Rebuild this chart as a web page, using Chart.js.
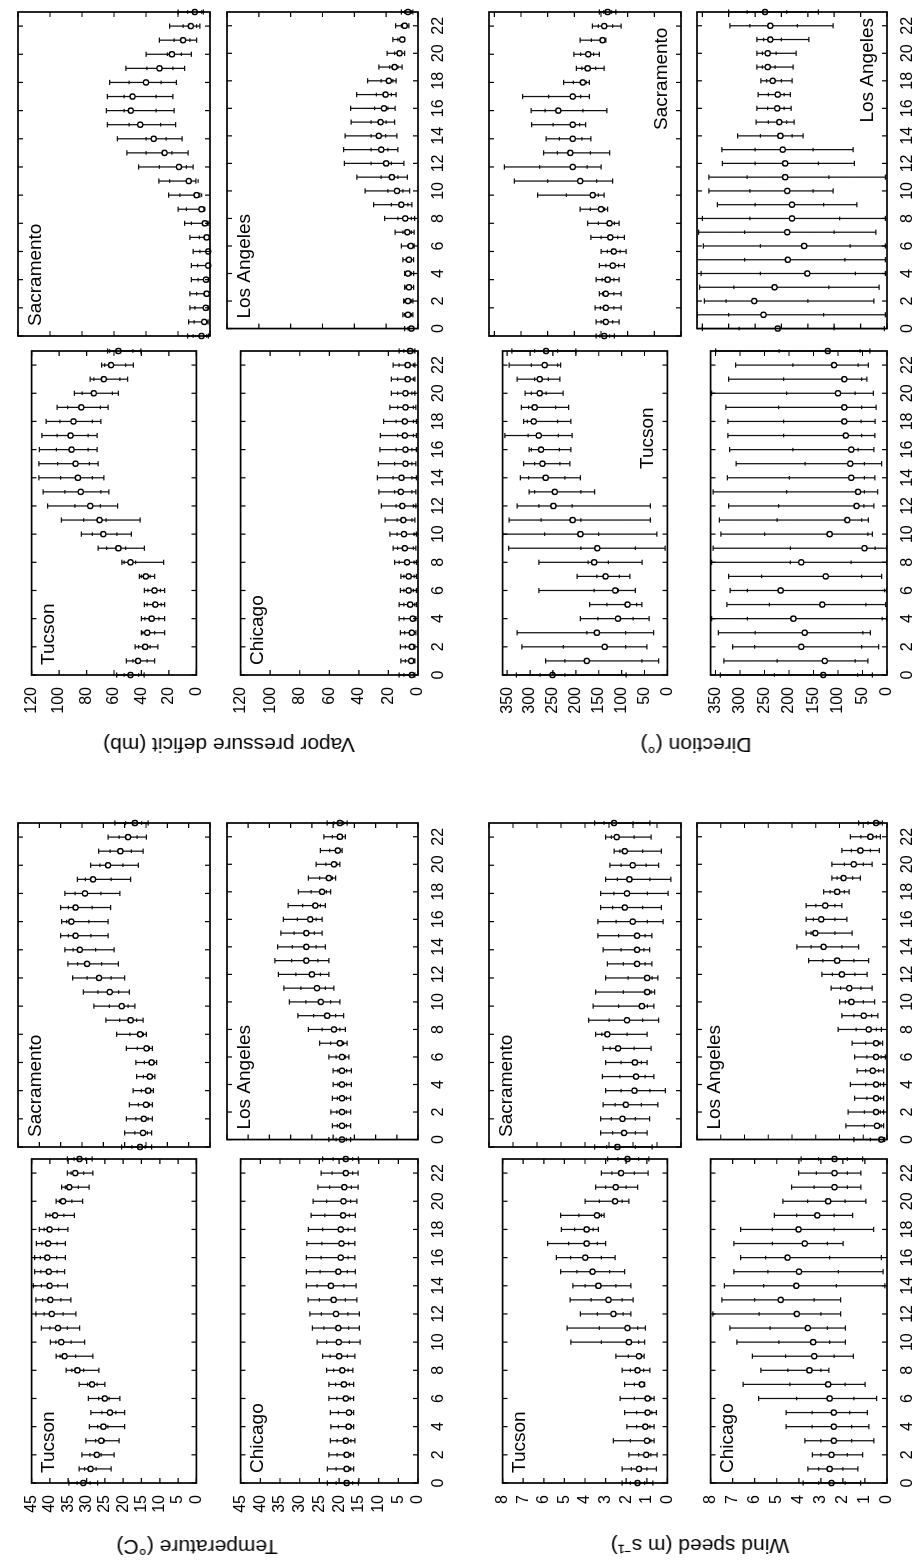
<!DOCTYPE html>
<html>
<head>
<meta charset="utf-8">
<script src="https://cdn.jsdelivr.net/npm/chart.js@4.4.0/dist/chart.umd.min.js"></script>
<style>
  html, body { margin: 0; padding: 0; background: #fff; }
  body { width: 913px; height: 1564px; overflow: hidden; position: relative; }
  /* the figure is drawn landscape and turned a quarter turn, as in the scan */
  #fig { position: absolute; left: 0; top: 0; width: 1564px; height: 913px;
         transform-origin: 0 0; transform: translate(0px, 1564px) rotate(-90deg); }
  #fig canvas { position: absolute; }
  .ttl { position: absolute; font: 21px "Liberation Sans", Arial, sans-serif; color: #000;
         white-space: nowrap; transform: translate(-50%, -50%) rotate(-90deg); }
</style>
</head>
<body>
<div id="fig"></div>
<script>
const hours = [0,1,2,3,4,5,6,7,8,9,10,11,12,13,14,15,16,17,18,19,20,21,22,23];

// Temperature (°C): mean, whisker ends, inner marks
const tempTucsonMean = [30.9,28.9,27.2,26,25.4,23.6,25,28.5,32.5,36,36.9,37.8,39.5,39.9,40.1,40.3,40.7,40.5,40.1,38.6,36.4,34.7,33.1,31.9];
const tempTucsonHi   = [34.8,32,31.3,30.2,29.2,28.8,29.5,32,35.6,38.3,39.9,42.3,43.8,43.8,44.5,44.2,44.2,43.7,42.9,41.1,38.3,36.8,35.2,35.2];
const tempTucsonLo   = [27,23.3,22.5,21.1,19.6,19.6,20.9,25,26.6,28.3,30.5,31.9,32.9,34.3,35.2,36,35.8,35.8,35.1,33.3,31.1,29.3,28.3,28.5];
const tempTucsonQ3   = [32.6,30.5,29.1,27.5,27,25.8,26.7,29.7,34,37.2,38.4,40,41.6,42,42.3,42.5,42.6,42.2,41.6,40,37.4,35.8,34.2,33.4];
const tempTucsonQ1   = [29,27.4,26,25.2,24.2,22,23.8,27.1,30.8,33,34.2,35.2,36.4,37,37.8,38,38.2,38,37.6,36.2,34,32.2,30.8,30.2];
const tempSacMean = [16.4,15.7,15.5,15,14.5,14.1,13.7,14.9,16.4,18.6,20.7,23.5,26,28.8,30.5,31.5,32.5,31.5,29.3,27.4,23.9,21,19.2,17.6];
const tempSacHi   = [20.7,20,19.6,18.9,18,17.2,17.4,19.6,21.9,24.4,27.2,29.7,32.2,33.3,34,35,34.8,35,34,31.1,28,26.1,23.9,22.3];
const tempSacLo   = [13.7,13.7,13.5,13.5,13.3,12.9,12.5,13.5,14.9,15.7,17.6,18.9,20,21.5,22.5,23.9,23.9,23.3,21.1,18.6,16.8,15.7,14.9,14.5];
const tempSacQ3   = [18.3,17.6,17.4,16.8,16.1,15.6,15.4,17,18.8,21.2,23.6,26.3,28.8,31,32.1,33.2,33.6,33.2,31.6,29.2,25.8,23.4,21.3,19.8];
const tempSacQ1   = [15.2,14.7,14.5,14.2,13.9,13.5,13.1,14.2,15.6,17.2,19.2,21.4,23.2,25.4,26.8,27.9,28.4,27.6,25.6,23.2,20.4,18.4,17.1,16];
const tempChiMean = [18.1,18.1,18.1,18.3,17.6,17.5,18.3,18.8,19.2,20,20.1,20.2,20.8,21.4,22.1,20.2,19.6,19.4,19.6,19,18.9,18.7,18.3,18.3];
const tempChiHi   = [23,23,22.6,22.2,22.1,22.2,22.6,22.6,23.2,24.2,25.6,26.8,27.4,27.9,28.3,28.3,28.3,28.2,27.8,27.1,26.6,25.4,24.6,24.2];
const tempChiLo   = [15.1,16.3,16.3,16,16.3,16.3,16.3,16.3,16.5,16,14.7,14.9,14.9,15.5,15.7,15.9,16,16,16,15.9,15.5,15.2,15.2,15.1];
const tempChiQ3   = [20.8,20.8,20.5,20.5,20.2,20.2,20.6,20.9,21.4,22.3,23.2,23.9,24.5,25,25.6,24.8,24.6,24.4,24.2,23.6,23.2,22.4,21.8,21.5];
const tempChiQ1   = [16.6,17.1,17.1,17,16.9,16.9,17.2,17.4,17.7,17.9,17.4,17.6,17.8,18.4,18.8,17.9,17.7,17.6,17.7,17.4,17.1,16.9,16.6,16.6];
const tempLaMean = [17.9,17.9,17.9,17.9,17.9,17.9,17.9,18.4,19.8,21.4,22.9,23.8,25,26.3,26.3,26.3,25.4,24.2,22.6,21,19.8,18.9,18.4,18.4];
const tempLaHi   = [21,20.2,20.5,20.2,20,20,21,23.2,25.8,28.3,30.3,31.6,32.9,33.7,33.1,32.3,31.7,30.6,28.2,25.8,24,23,22.2,21.4];
const tempLaLo   = [15.9,15.9,15.9,15.9,15.7,15.7,16.3,16.7,17.1,17.5,18.4,19.8,21,21,21.8,22.6,22.6,21.8,20.6,19.4,18.4,17.9,17.1,16.7];
const tempLaQ3   = [19.3,19,19.1,19,18.9,18.9,19.3,20.6,22.6,24.6,26.4,27.6,28.8,29.8,29.6,29.2,28.4,27.2,25.2,23.2,21.7,20.8,20.2,19.8];
const tempLaQ1   = [16.9,16.9,16.9,16.9,16.8,16.8,17.1,17.5,18.4,19.4,20.6,21.8,23,23.6,24,24.4,24,23,21.6,20.2,19.1,18.4,17.8,17.5];

// Vapor pressure deficit (mb)
const vpdTucsonMean = [48,42.5,37.3,35.8,32.6,29.9,30.5,36.8,48,56.8,67.8,70.5,77.3,84.2,86.3,88,90.9,91.6,89.5,83.8,74.7,67.4,62.1,56.8];
const vpdTucsonHi   = [58,50.9,44.6,40,40,37.9,37.9,41.5,54.3,71.6,83.8,98.3,108.4,111.6,114.7,114.7,114.3,112.6,109.5,101.5,88.8,77.3,69,64.7];
const vpdTucsonLo   = [38,30.5,28,23.2,23.2,23.2,23.2,30.5,23.8,37.9,47.4,41,57.3,63.8,67.4,71.6,72.2,72.2,69.5,64.2,56.8,50.1,45.9,40.4];
const vpdTucsonQ3   = [52.6,46.3,42.1,38.9,37.5,35.8,35.4,40,52.6,65.3,75.8,82.1,88.4,95.8,98.9,101,102,101.5,99.4,93.7,83.2,74.7,66.9,63.2];
const vpdTucsonQ1   = [42.1,35.8,33.7,30.5,27.4,25.7,26.3,33.7,44.2,51.6,57.9,65.7,69.9,69.5,75.8,77.9,78.9,78.9,75.8,69.9,61.1,55.8,51.6,46.3];
const vpdSacMean = [5.3,3.6,2.7,2.1,2.5,1.1,1.1,2.1,3.2,5.3,8.4,13.3,19.4,28.4,35.2,43.6,49.5,48.4,40,31.6,23.8,16.8,12,9.5];
const vpdSacHi   = [14,13.3,12.6,12.6,11.6,11.6,10.5,12.6,15.8,20,25.9,32,44.6,52,57.9,64.2,64.8,64.2,62.7,52.6,40,31.6,25.3,20];
const vpdSacLo   = [1,1.1,1.1,1.1,1.1,1.1,0.5,0.6,1.1,3.6,6.3,8.8,10.5,13.7,17.5,21.5,22.5,23.2,21,15.8,11.6,8.4,6.3,4.2];
const vpdSacQ3   = [10.5,9.9,9.5,8.4,7.4,7.8,6.3,6.7,11.6,14.7,18.9,25.3,31.6,40,40,50.5,53.7,53.7,50.5,39.4,26.7,22.5,16.8,14];
const vpdSacQ1   = [2.1,2.1,1.5,1.1,1.5,0.8,0.8,1.5,2.1,3.2,5.3,7.4,14.7,23.8,27.4,30.9,33.7,33.7,30.5,23.2,17.9,12.6,8.4,5.3];
const vpdChiMean = [4.2,4.6,4.2,4.2,3.6,5.3,6.3,6.3,7.4,8.9,9.5,9.9,10.6,11.6,11.2,8.5,8.5,8.9,8.9,8.5,8.5,7,7,5.3];
const vpdChiHi   = [12.7,11.6,12,12,12.7,12.7,12,11.6,15.8,16.9,19,22.2,24.7,26.4,27.5,26.8,25.8,25.4,23.2,19,18,18,16.9,12.7];
const vpdChiLo   = [2.1,2.1,2.1,1.5,1.5,1.1,1.1,1.1,1.1,1.5,1.1,2.1,1.5,1.5,1.1,1.5,1.1,1.1,1.1,1.5,2.1,2.1,2.1,2.1];
const vpdChiQ3   = [9.5,8.5,8.5,9.1,9.5,9.5,9.5,9.5,12.7,13.7,14.2,14.2,14.8,15.8,16.9,15.8,14.8,13.7,14.8,13.7,13.7,13.7,12.7,9.5];
const vpdChiQ1   = [2.7,2.7,2.7,2.7,2.3,2.3,3.2,2.7,2.7,3.2,2.7,4.2,3.2,4.2,4.2,4.2,4.2,3.2,3.2,3.2,4.2,3.2,3.2,2.7];
const vpdLaMean = [4.2,6.3,6.3,5.7,6.3,5.7,4.6,6.7,8,10.5,13.2,16.4,20,23.1,24.6,23.5,21.4,20.4,18.3,14.7,11.6,9.9,8.4,6.3];
const vpdLaHi   = [8.4,9.5,9.1,8.4,8.4,9.5,10.5,14.3,21,27.9,33.2,38.4,46.2,46.8,45.8,42,42.4,38.5,31.6,24.6,19.4,15.8,14.1,10.5];
const vpdLaLo   = [2.7,3.2,3.2,2.7,2.7,2.7,2.5,2.5,2.1,3.8,5.3,6.7,8.8,12.6,13.2,14.7,14.3,13.7,13.7,9.9,8.4,8.4,5.7,3.2];
const vpdLaQ3   = [6.3,8.4,8.4,7.4,7.4,7.4,6.3,9.5,12.6,16.8,18.9,23.1,29.4,29.4,29.4,29.4,27.3,26.2,23.1,17.9,14.7,12.6,10.5,8.4];
const vpdLaQ1   = [3.2,4.2,4.2,4.2,4.2,4.2,3.2,4.2,4.2,6.3,9.5,12.6,16.8,18.9,20.4,20,18.9,16.8,15.8,12.6,10.5,9.5,7.4,4.2];

// Wind speed (m/s)
const windTucsonMean = [1.45,1.38,1.03,0.99,1.07,0.96,0.96,1.24,1.45,1.38,1.87,1.94,2.62,2.86,3.35,3.63,3.99,3.92,3.92,3.42,2.54,2.51,2.25,1.94];
const windTucsonHi   = [2.2,2.2,1.87,2.62,1.97,2.08,2.3,2.08,2.2,2.5,4.69,4.87,4.23,4.72,4.59,5.18,5.39,5.82,5.15,5.18,3.99,3.49,3.21,2.9];
const windTucsonLo   = [0.7,0.54,0.5,0.65,0.65,0.54,0.65,1.1,0.85,1.13,1.1,1.07,1.77,1.66,1.77,2.08,2.54,3,3.35,3.07,1.87,1.45,0.93,0.9];
const windTucsonQ3   = [1.8,1.75,1.4,1.8,1.5,1.5,1.6,1.6,1.8,1.9,3.2,3.3,3.4,3.7,4,4.4,4.7,4.8,4.5,4.3,3.3,3,2.7,2.4];
const windTucsonQ1   = [1.1,1,0.8,0.8,0.85,0.75,0.8,1.15,1.15,1.25,1.4,1.45,2.15,2.2,2.5,2.8,3.2,3.4,3.6,3.2,2.2,2,1.6,1.4];
const windSacMean = [2.65,2.37,2.44,2.3,1.94,1.87,1.92,2.62,3.07,2.25,1.63,1.41,1.41,1.83,1.83,1.83,2.01,2.34,2.25,2.15,2.01,2.34,2.68,2.79];
const windSacHi   = [3.6,3.35,3.35,3.24,3.14,3.28,3.14,3.24,3.56,3.85,3.66,3.56,3.14,3.07,3.24,3.46,3.46,3.35,3.35,3.14,2.96,2.79,3.14,3.6];
const windSacLo   = [1.2,1.41,1.31,0.96,0.65,1.13,1.41,1.24,1.41,0.93,1.13,1.1,0.96,1.21,1.31,1.21,0.75,0.82,0.54,0.42,0.93,0.82,1.24,1.3];
const windSacQ3   = [3.1,2.85,2.9,2.75,2.5,2.55,2.5,2.95,3.3,3,2.6,2.4,2.2,2.4,2.5,2.6,2.7,2.85,2.8,2.65,2.5,2.55,2.9,3.2];
const windSacQ1   = [1.9,1.9,1.9,1.65,1.3,1.5,1.65,1.95,2.25,1.6,1.4,1.25,1.2,1.5,1.55,1.5,1.4,1.6,1.4,1.3,1.45,1.6,1.95,2];
const windChiMean = [2.52,2.6,2.52,2.41,2.41,2.41,2.6,2.67,3.52,3.3,3.35,3.59,4.09,4.82,4.11,3.99,4.51,3.73,4.01,3.16,2.67,2.38,2.38,2.38];
const windChiHi   = [3.8,3.59,3.38,3.73,4.58,4.58,5.82,6.52,5.72,6.1,6.81,7.13,7.9,7.49,7.38,6.95,6.64,6.95,6.64,5.11,4.72,4.33,4.01,3.9];
const windChiLo   = [1.2,1.32,1.1,0.6,0.82,0.89,0.47,0.99,2.64,1.53,1.89,1.89,2.1,2.1,0.1,0.18,0.26,1.99,0.61,1.56,0.96,1.18,1.18,1.1];
const windChiQ3   = [3.1,3.1,3,3,3.4,3.4,4.1,4.4,4.5,4.6,4.9,5.3,5.8,6,5.6,5.4,5.5,5.2,5.2,4.1,3.6,3.3,3.2,3.1];
const windChiQ1   = [1.9,2,1.8,1.6,1.6,1.7,1.5,1.9,3,2.4,2.6,2.7,3,3.3,2.3,2.2,2.6,2.7,2.4,2.4,1.9,1.8,1.8,1.8];
const windLaMean = [0.24,0.42,0.46,0.46,0.46,0.6,0.46,0.46,0.77,0.98,1.5,1.59,1.9,2.1,2.67,3.02,2.77,2.6,2.1,1.83,1.4,1.12,0.7,0.46];
const windLaHi   = [1.4,1.73,1.64,1.36,1.54,1.26,1.36,1.47,2.06,1.9,2,2.35,2.74,3.3,3.79,3.41,3.41,3.41,2.67,2.32,2.32,1.9,1.54,1.2];
const windLaLo   = [0.1,0.14,0.14,0.14,0.14,0.14,0.07,0.18,0.24,0.38,0.52,0.63,0.84,0.77,1.19,1.47,1.69,1.9,1.59,1.12,0.63,0.32,0.28,0.2];
const windLaQ3   = [0.7,0.95,0.95,0.85,0.9,0.9,0.85,0.9,1.3,1.4,1.75,1.95,2.3,2.7,3.2,3.2,3.1,3,2.4,2.1,1.8,1.5,1.1,0.8];
const windLaQ1   = [0.17,0.25,0.28,0.28,0.28,0.35,0.25,0.3,0.45,0.65,1,1.1,1.35,1.4,1.9,2.2,2.2,2.2,1.8,1.45,1,0.7,0.45,0.3];

// Direction (degrees)
const dirTucsonMean = [251,176,137,154,108,87,114,135,160,153,190,207,249,246,266,273,276,281,292,290,279,279,268,265];
const dirTucsonHi   = [330,266,318,328,190,170,281,197,281,347,360,346,328,302,321,314,302,355,314,319,311,328,346,340];
const dirTucsonLo   = [90,19,45,30,40,56,70,82,55,5,23,37,37,159,190,213,211,208,211,216,228,235,233,200];
const dirTucsonQ3   = [278,224,227,176,152,132,160,154,173,189,268,276,281,290,303,290,297,304,306,303,297,290,297,290];
const dirTucsonQ1   = [224,56,91,91,75,67,107,105,129,70,150,189,208,189,224,235,236,238,240,244,265,260,240,240];
const dirSacMean = [144,141,141,141,137.5,128,126,132.5,134,150,165.6,189,203,207.5,203,203,230,203,184,175,174,147,144,137.5];
const dirSacHi   = [159,159,161,153,159,153,150,169,175,189,269,312.5,331,257.5,253,280,281,297,220,196,201,189,166,153];
const dirSacLo   = [125,116,112.5,112.5,116,106,103,106,116,137.5,144,128,150,134,169,179,139,172,172,144,153,141,112.5,122];
const dirSacQ3   = [152,150,151,147,148,141,138,150,155,170,215,250,265,232,228,240,255,248,202,186,188,168,155,145];
const dirSacQ1   = [134,128,126,126,126,117,114,119,125,143,155,158,176,170,186,190,184,188,178,160,164,144,128,130];
const dirChiMean = [130,127,175,168,191,132,217,125,175,46,117,81,62,59,73,75,73,84,87,87,100,87,108,121];
const dirChiHi   = [340,333,315,344,358,327,320,323,358,355,339,342,323,355,326,308,321,325,325,329,358,323,309,350];
const dirChiLo   = [30,39,17,34,1,3,1,11,1,1,30,38,27,19,25,11,27,25,24,22,28,41,38,35];
const dirChiQ3   = [230,224,270,269,285,240,285,256,197,197,250,224,221,205,199,167,192,211,211,221,205,211,192,220];
const dirChiQ1   = [60,65,52,49,10,43,5,52,73,24,39,52,47,46,46,46,59,52,53,52,65,52,59,55];
const dirLaMean = [207,234,251.6,213,151,188,157,189,180,180,189,193,193,197.5,202,204,208,207,216.6,226,226,221,221,231];
const dirLaHi   = [350,360,346,355,352,361,348,357,350,321.6,337.6,337.6,312,313,283,248,246.5,244,239,246.5,246.5,246.5,297.5,300];
const dirLaLo   = [5,3,25,15,3,3,3,21,3,57,102,3,62,64,159,176,181.5,183,180,178,172,148,102,130];
const dirLaQ3   = [280,300,305,290,240,270,240,270,260,250,260,265,250,250,240,225,226,225,228,236,236,234,260,265];
const dirLaQ1   = [100,120,150,110,60,80,70,100,90,120,140,110,130,140,180,190,195,195,200,212,210,200,170,190];

const FONT = '"Liberation Sans", Arial, sans-serif';
const fig = document.getElementById('fig');

// panel boxes in the landscape figure
const colsLeft = [81, 417], colsRight = [889, 1228];
const rowsTop = [[18, 192], [227, 191]], rowsBottom = [[489, 192], [697, 190]];

const groups = [
  { max: 45, step: 5, cols: colsLeft, rows: rowsTop, title: 'Temperature (°C)', tx: 17, ty: 197, labelAt: 'top',
    panels: [[tempTucsonMean, tempTucsonLo, tempTucsonHi, tempTucsonQ1, tempTucsonQ3, 'Tucson'],
             [tempSacMean, tempSacLo, tempSacHi, tempSacQ1, tempSacQ3, 'Sacramento'],
             [tempChiMean, tempChiLo, tempChiHi, tempChiQ1, tempChiQ3, 'Chicago'],
             [tempLaMean, tempLaLo, tempLaHi, tempLaQ1, tempLaQ3, 'Los Angeles']] },
  { max: 120, step: 20, cols: colsRight, rows: rowsTop, title: 'Vapor pressure deficit (mb)', tx: 819, ty: 229, labelAt: 'top',
    panels: [[vpdTucsonMean, vpdTucsonLo, vpdTucsonHi, vpdTucsonQ1, vpdTucsonQ3, 'Tucson'],
             [vpdSacMean, vpdSacLo, vpdSacHi, vpdSacQ1, vpdSacQ3, 'Sacramento'],
             [vpdChiMean, vpdChiLo, vpdChiHi, vpdChiQ1, vpdChiQ3, 'Chicago'],
             [vpdLaMean, vpdLaLo, vpdLaHi, vpdLaQ1, vpdLaQ3, 'Los Angeles']] },
  { max: 8, step: 1, cols: colsLeft, rows: rowsBottom, title: 'Wind speed (m s\u207B\u00B9)', tx: 17, ty: 700, labelAt: 'top',
    panels: [[windTucsonMean, windTucsonLo, windTucsonHi, windTucsonQ1, windTucsonQ3, 'Tucson'],
             [windSacMean, windSacLo, windSacHi, windSacQ1, windSacQ3, 'Sacramento'],
             [windChiMean, windChiLo, windChiHi, windChiQ1, windChiQ3, 'Chicago'],
             [windLaMean, windLaLo, windLaHi, windLaQ1, windLaQ3, 'Los Angeles']] },
  { max: 360, step: 50, cols: colsRight, rows: rowsBottom, title: 'Direction (\u00B0)', tx: 819, ty: 696, labelAt: 'bottom',
    panels: [[dirTucsonMean, dirTucsonLo, dirTucsonHi, dirTucsonQ1, dirTucsonQ3, 'Tucson'],
             [dirSacMean, dirSacLo, dirSacHi, dirSacQ1, dirSacQ3, 'Sacramento'],
             [dirChiMean, dirChiLo, dirChiHi, dirChiQ1, dirChiQ3, ''],
             [dirLaMean, dirLaLo, dirLaHi, dirLaQ1, dirLaQ3, 'Los Angeles']] }
];

// whiskers with end caps plus small inner marks, drawn under the points
const errorBars = {
  id: 'errorBars',
  beforeDatasetsDraw(chart) {
    const { ctx, chartArea: a, scales: { x, y } } = chart;
    const ds = chart.data.datasets[0];
    ctx.save();
    ctx.beginPath();
    ctx.rect(a.left - 6, a.top, a.width + 12, a.height);
    ctx.clip();
    ctx.strokeStyle = '#111';
    ctx.lineWidth = 1.25;
    ctx.beginPath();
    ds.lo.forEach((lo, i) => {
      const px = x.getPixelForValue(hours[i]);
      const p1 = y.getPixelForValue(lo), p2 = y.getPixelForValue(ds.hi[i]);
      ctx.moveTo(px, p1); ctx.lineTo(px, p2);
      ctx.moveTo(px - 2.6, p1); ctx.lineTo(px + 2.6, p1);
      ctx.moveTo(px - 2.6, p2); ctx.lineTo(px + 2.6, p2);
      const q1 = y.getPixelForValue(ds.q1[i]), q3 = y.getPixelForValue(ds.q3[i]);
      ctx.moveTo(px - 1.8, q1); ctx.lineTo(px + 1.8, q1);
      ctx.moveTo(px - 1.8, q3); ctx.lineTo(px + 1.8, q3);
    });
    ctx.stroke();
    ctx.restore();
  }
};

// box with inward ticks on all four sides
const frame = {
  id: 'frame',
  afterDraw(chart) {
    const { ctx, chartArea: a, scales: { x, y } } = chart;
    ctx.save();
    ctx.strokeStyle = '#000';
    ctx.lineWidth = 1.2;
    ctx.beginPath();
    x.ticks.forEach(t => {
      const p = x.getPixelForValue(t.value);
      ctx.moveTo(p, a.bottom); ctx.lineTo(p, a.bottom - 5);
      ctx.moveTo(p, a.top); ctx.lineTo(p, a.top + 5);
    });
    y.ticks.forEach(t => {
      const p = y.getPixelForValue(t.value);
      ctx.moveTo(a.left, p); ctx.lineTo(a.left + 5, p);
      ctx.moveTo(a.right, p); ctx.lineTo(a.right - 5, p);
    });
    ctx.stroke();
    ctx.lineWidth = 1.7;
    ctx.strokeRect(a.left, a.top, a.width, a.height);
    ctx.restore();
  }
};

function cityLabel(text, where) {
  return {
    id: 'cityLabel',
    afterDraw(chart) {
      if (!text) return;
      const { ctx, chartArea: a } = chart;
      ctx.save();
      ctx.font = '19px ' + FONT;
      ctx.fillStyle = '#000';
      if (where === 'bottom') {
        ctx.textBaseline = 'alphabetic';
        ctx.fillText(text, a.left + 206, a.bottom - 14);
      } else {
        ctx.textBaseline = 'top';
        ctx.fillText(text, a.left + 10, a.top + 8);
      }
      ctx.restore();
    }
  };
}

function makePanel(g, k) {
  const [mean, lo, hi, q1, q3, name] = g.panels[k];
  const col = k % 2, row = Math.floor(k / 2);
  const showY = col === 0, showX = row === 1;
  const left = g.cols[col], top = g.rows[row][0];
  const w = 324, h = g.rows[row][1];
  const L = showY ? 60 : 8, B = showX ? 36 : 8, T = 8, R = 8;

  const c = document.createElement('canvas');
  c.width = w + L + R;
  c.height = h + T + B;
  c.style.left = (left - L) + 'px';
  c.style.top = (top - T) + 'px';
  fig.appendChild(c);

  new Chart(c, {
    type: 'scatter',
    data: {
      datasets: [{
        data: hours.map((hr, i) => ({ x: hr, y: mean[i] })),
        lo: lo, hi: hi, q1: q1, q3: q3,
        pointRadius: 2.6,
        pointBackgroundColor: '#fff',
        pointBorderColor: '#000',
        pointBorderWidth: 1.4,
        clip: false
      }]
    },
    options: {
      responsive: false,
      animation: false,
      devicePixelRatio: 1,
      layout: { padding: { top: T, right: R, left: 0, bottom: 0 } },
      plugins: { legend: { display: false }, tooltip: { enabled: false } },
      scales: {
        x: {
          type: 'linear', min: 0, max: 23,
          grid: { display: false, drawTicks: false },
          border: { display: false },
          ticks: { display: showX, stepSize: 2, includeBounds: false, autoSkip: false, maxRotation: 0,
                   padding: 11, color: '#000', font: { family: FONT, size: 16 } },
          afterFit: s => { s.height = B; }
        },
        y: {
          type: 'linear', min: 0, max: g.max,
          grid: { display: false, drawTicks: false },
          border: { display: false },
          ticks: { display: showY, stepSize: g.step, includeBounds: false, autoSkip: false,
                   padding: 12, color: '#000', font: { family: FONT, size: 16 } },
          afterFit: s => { s.width = L; }
        }
      }
    },
    plugins: [errorBars, frame, cityLabel(name, g.labelAt)]
  });
}

groups.forEach(g => {
  for (let k = 0; k < 4; k++) makePanel(g, k);
  const t = document.createElement('div');
  t.className = 'ttl';
  t.textContent = g.title;
  t.style.left = g.tx + 'px';
  t.style.top = g.ty + 'px';
  fig.appendChild(t);
});
</script>
</body>
</html>
